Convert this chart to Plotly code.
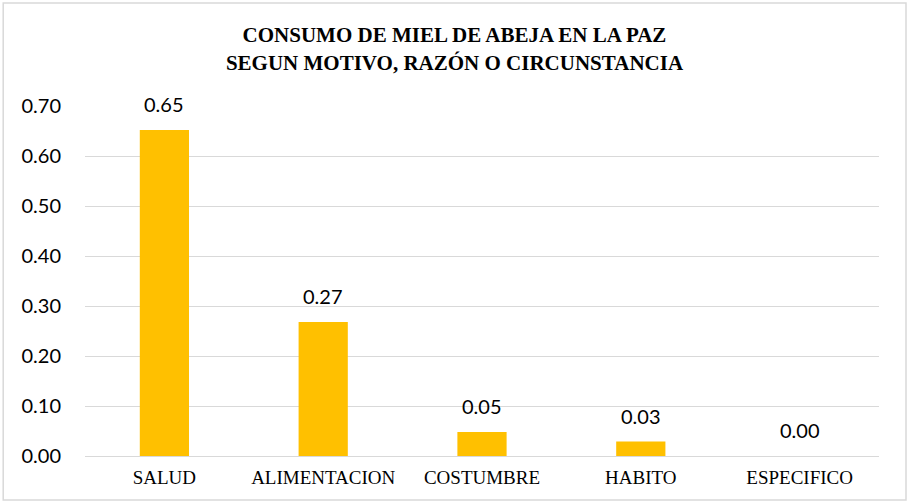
import plotly.graph_objects as go

motivos = ['SALUD', 'ALIMENTACION', 'COSTUMBRE', 'HABITO', 'ESPECIFICO']
proporcion = [0.652, 0.268, 0.048, 0.029, 0.0]
etiquetas = ['0.65', '0.27', '0.05', '0.03', '0.00']
y_ticks = [0.0, 0.1, 0.2, 0.3, 0.4, 0.5, 0.6, 0.7]

fig = go.Figure(go.Bar(
    x=motivos,
    y=proporcion,
    marker=dict(color='#FFC000', line=dict(width=0)),
    hoverinfo='x+y',
))

# etiquetas de datos encima de cada barra
for m, v, t in zip(motivos, proporcion, etiquetas):
    fig.add_annotation(
        x=m, y=v, text=t,
        showarrow=False,
        yanchor='bottom',
        yshift=12,
        font=dict(family='Lato', size=20, color='#000000'),
    )

fig.update_layout(
    width=909,
    height=504,
    plot_bgcolor='white',
    paper_bgcolor='white',
    bargap=0.69,
    showlegend=False,
    margin=dict(t=106, b=48, l=85, r=30),
    title=dict(
        text='<b>CONSUMO DE MIEL DE ABEJA EN LA PAZ<br>SEGUN MOTIVO, RAZÓN O CIRCUNSTANCIA</b>',
        x=0.5,
        xanchor='center',
        y=0.916,
        yanchor='middle',
        font=dict(family='Liberation Serif', size=21, color='#000000'),
    ),
    xaxis=dict(
        showgrid=False,
        showline=False,
        ticks='',
        ticklabelstandoff=8,
        tickfont=dict(family='Liberation Serif', size=19, color='#000000'),
    ),
    yaxis=dict(
        range=[0, 0.7],
        tickvals=y_ticks,
        tickformat='.2f',
        showgrid=True,
        gridcolor='#D9D9D9',
        gridwidth=1,
        zeroline=True,
        zerolinecolor='#D9D9D9',
        zerolinewidth=1,
        showline=False,
        ticks='',
        ticklabelstandoff=23,
        tickfont=dict(family='Lato', size=20, color='#000000'),
    ),
    shapes=[dict(
        type='rect', xref='paper', yref='paper',
        x0=-0.103, x1=1.034, y0=-0.126, y1=1.294,
        line=dict(color='#D9D9D9', width=1.5),
        fillcolor='rgba(0,0,0,0)',
        layer='below',
    )],
)

fig.write_html('out.html', config={'displayModeBar': False},
               post_script="document.body.style.margin='0';")
